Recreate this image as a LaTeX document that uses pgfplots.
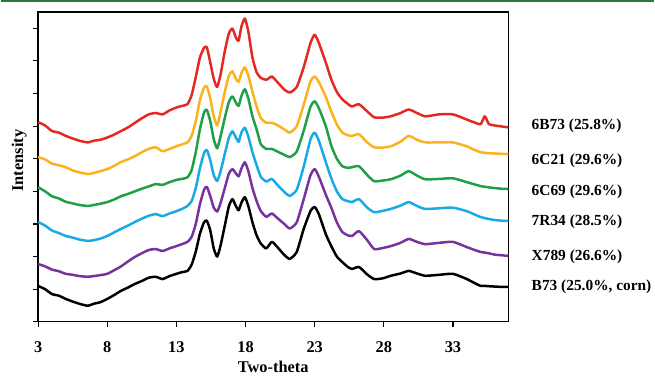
\documentclass[border=0pt]{standalone}
\usepackage{pgfplots}
\pgfplotsset{compat=1.18}
\usepackage{pgfplotstable}
\usepackage{fontspec}
\setmainfont{Liberation Serif}
\definecolor{cRed}{RGB}{230,40,35}
\definecolor{cOrange}{RGB}{250,178,30}
\definecolor{cGreen}{RGB}{30,160,70}
\definecolor{cBlue}{RGB}{25,170,230}
\definecolor{cPurple}{RGB}{120,50,160}
\definecolor{cTop}{RGB}{45,120,60}
\pgfplotstableread{
x    k    p    b    g    o    r
3    1.10 1.77 3.06 4.13 5.05 6.12
3.5  1.00 1.70 2.95 4.00 4.98 6.02
4    0.85 1.60 2.80 3.85 4.85 5.85
4.5  0.80 1.55 2.72 3.78 4.80 5.80
5    0.70 1.47 2.63 3.68 4.74 5.70
5.5  0.62 1.44 2.58 3.63 4.64 5.62
6    0.55 1.40 2.52 3.58 4.58 5.55
6.6  0.49 1.38 2.48 3.55 4.53 5.50
7    0.55 1.40 2.50 3.58 4.56 5.55
7.5  0.60 1.43 2.55 3.62 4.62 5.58
8    0.70 1.47 2.63 3.67 4.68 5.65
8.5  0.82 1.58 2.74 3.75 4.78 5.74
9    0.95 1.70 2.85 3.85 4.90 5.85
9.5  1.05 1.85 2.95 3.92 4.98 5.96
10   1.16 1.99 3.06 4.00 5.08 6.10
10.5 1.25 2.10 3.16 4.08 5.20 6.24
11   1.35 2.20 3.25 4.15 5.30 6.36
11.5 1.38 2.23 3.30 4.22 5.35 6.40
12   1.31 2.17 3.24 4.20 5.23 6.36
12.5 1.40 2.25 3.32 4.28 5.30 6.48
13   1.47 2.32 3.39 4.35 5.38 6.57
13.4 1.52 2.38 3.46 4.38 5.44 6.62
13.8 1.56 2.45 3.55 4.43 5.50 6.67
14.1 1.75 2.60 3.70 4.65 5.70 6.95
14.4 2.15 3.00 4.10 5.20 6.15 7.50
14.7 2.70 3.60 4.70 5.90 6.80 8.10
15.0 3.05 4.05 5.18 6.42 7.18 8.40
15.2 3.10 4.14 5.27 6.50 7.22 8.42
15.45 2.80 3.85 4.95 6.15 6.85 7.95
15.7 2.25 3.50 4.50 5.60 6.30 7.45
15.95 2.00 3.38 4.32 5.32 6.02 7.20
16.2 2.35 3.65 4.62 5.70 6.45 7.60
16.5 2.95 4.10 5.15 6.25 7.05 8.30
16.8 3.55 4.55 5.65 6.75 7.55 8.85
17.05 3.76 4.68 5.84 6.91 7.68 8.99
17.3 3.55 4.55 5.65 6.72 7.45 8.72
17.5 3.42 4.46 5.52 6.62 7.36 8.62
17.7 3.65 4.70 5.80 6.92 7.62 9.05
17.95 3.82 4.89 5.95 7.13 7.80 9.30
18.2 3.55 4.62 5.68 6.85 7.55 8.90
18.5 3.05 4.10 5.20 6.30 7.05 8.10
18.8 2.65 3.70 4.80 5.90 6.60 7.65
19.1 2.40 3.40 4.45 5.45 6.25 7.48
19.5 2.25 3.22 4.30 5.30 6.10 7.42
19.9 2.45 3.32 4.38 5.30 6.10 7.52
20.3 2.29 3.18 4.20 5.22 6.03 7.35
20.8 2.05 3.00 3.98 5.12 5.90 7.12
21.2 1.93 2.86 3.86 5.05 5.80 7.03
21.7 2.14 3.05 4.05 5.22 6.00 7.20
22.2 2.84 3.75 4.75 5.85 6.65 7.80
22.7 3.40 4.50 5.60 6.60 7.38 8.55
23.0 3.52 4.68 5.80 6.76 7.52 8.80
23.3 3.30 4.45 5.55 6.55 7.35 8.55
23.8 2.69 3.90 4.90 6.00 6.90 7.95
24.2 2.32 3.50 4.40 5.40 6.45 7.43
24.6 2.00 3.05 4.00 5.00 6.05 7.05
25   1.83 2.75 3.76 4.77 5.80 6.82
25.4 1.68 2.65 3.70 4.72 5.72 6.68
25.7 1.62 2.63 3.67 4.74 5.70 6.60
26.2 1.68 2.78 3.76 4.77 5.75 6.67
26.8 1.45 2.50 3.50 4.50 5.50 6.45
27.3 1.31 2.23 3.36 4.31 5.35 6.27
27.9 1.33 2.26 3.40 4.33 5.34 6.26
28.5 1.41 2.32 3.46 4.37 5.38 6.30
29.2 1.48 2.42 3.56 4.48 5.52 6.40
29.8 1.56 2.54 3.67 4.62 5.70 6.51
30.4 1.48 2.45 3.55 4.48 5.58 6.40
31   1.41 2.38 3.46 4.37 5.50 6.30
32   1.44 2.42 3.48 4.38 5.50 6.36
33   1.47 2.45 3.50 4.40 5.50 6.36
34   1.31 2.29 3.39 4.28 5.38 6.20
34.5 1.20 2.21 3.30 4.22 5.28 6.12
35   1.10 2.14 3.21 4.16 5.20 6.06
35.3 1.10 2.12 3.18 4.14 5.18 6.30
35.6 1.09 2.10 3.15 4.12 5.17 6.06
36   1.08 2.06 3.12 4.10 5.16 6.02
36.5 1.07 2.04 3.10 4.08 5.15 5.99
37   1.07 2.02 3.09 4.07 5.14 5.96
}\xrd
\begin{document}
\begin{tikzpicture}
\begin{axis}[
  scale only axis, width=472bp, height=311bp,
  at={(0,0)}, anchor=south west,
  xmin=3, xmax=37, ymin=0, ymax=9.5,
  xtick={3,8,13,18,23,28,33},
  ytick={0,1,...,9}, yticklabels={},
  tick align=outside, major tick length=5bp,
  tick style={line width=1.2bp, black},
  axis line style={line width=1.4bp},
  axis lines*=box,
  xtick pos=bottom, ytick pos=left,
  /pgf/number format/assume math mode=true,
  ticklabel style={font=\bfseries\fontsize{16.5}{16.5}\selectfont},
  xticklabel style={yshift=-11bp},
  xlabel={Two-theta}, ylabel={Intensity},
  label style={font=\bfseries\fontsize{16.5}{16.5}\selectfont},
  xlabel style={at={(axis description cs:0.5,0)}, anchor=center, yshift=-45bp},
  ylabel style={at={(axis description cs:-0.04,0.52)}, anchor=center},
  clip=false,
  every axis plot/.append style={line width=2.5bp, line join=round, smooth, tension=0.35},
]
\addplot[black] table[x=x,y=k]{\xrd};
\addplot[cPurple] table[x=x,y=p]{\xrd};
\addplot[cBlue] table[x=x,y=b]{\xrd};
\addplot[cGreen] table[x=x,y=g]{\xrd};
\addplot[cOrange] table[x=x,y=o]{\xrd};
\addplot[cRed] table[x=x,y=r]{\xrd};
\begin{scope}[every node/.style={anchor=west, font=\bfseries\fontsize{15.5}{15.5}\selectfont, xshift=20bp}]
\node at (axis cs:37,6.00) {6B73 (25.8\%)};
\node at (axis cs:37,4.95) {6C21 (29.6\%)};
\node at (axis cs:37,3.98) {6C69 (29.6\%)};
\node at (axis cs:37,3.06) {7R34 (28.5\%)};
\node at (axis cs:37,2.00) {X789 (26.6\%)};
\node at (axis cs:37,1.07) {B73 (25.0\%, corn)};
\end{scope}
\end{axis}
\draw[cTop, line width=2.5bp] (-37bp,321.75bp) -- (618bp,321.75bp);
\path[use as bounding box] (-37bp,-51bp) rectangle (618bp,323bp);
\end{tikzpicture}
\end{document}
